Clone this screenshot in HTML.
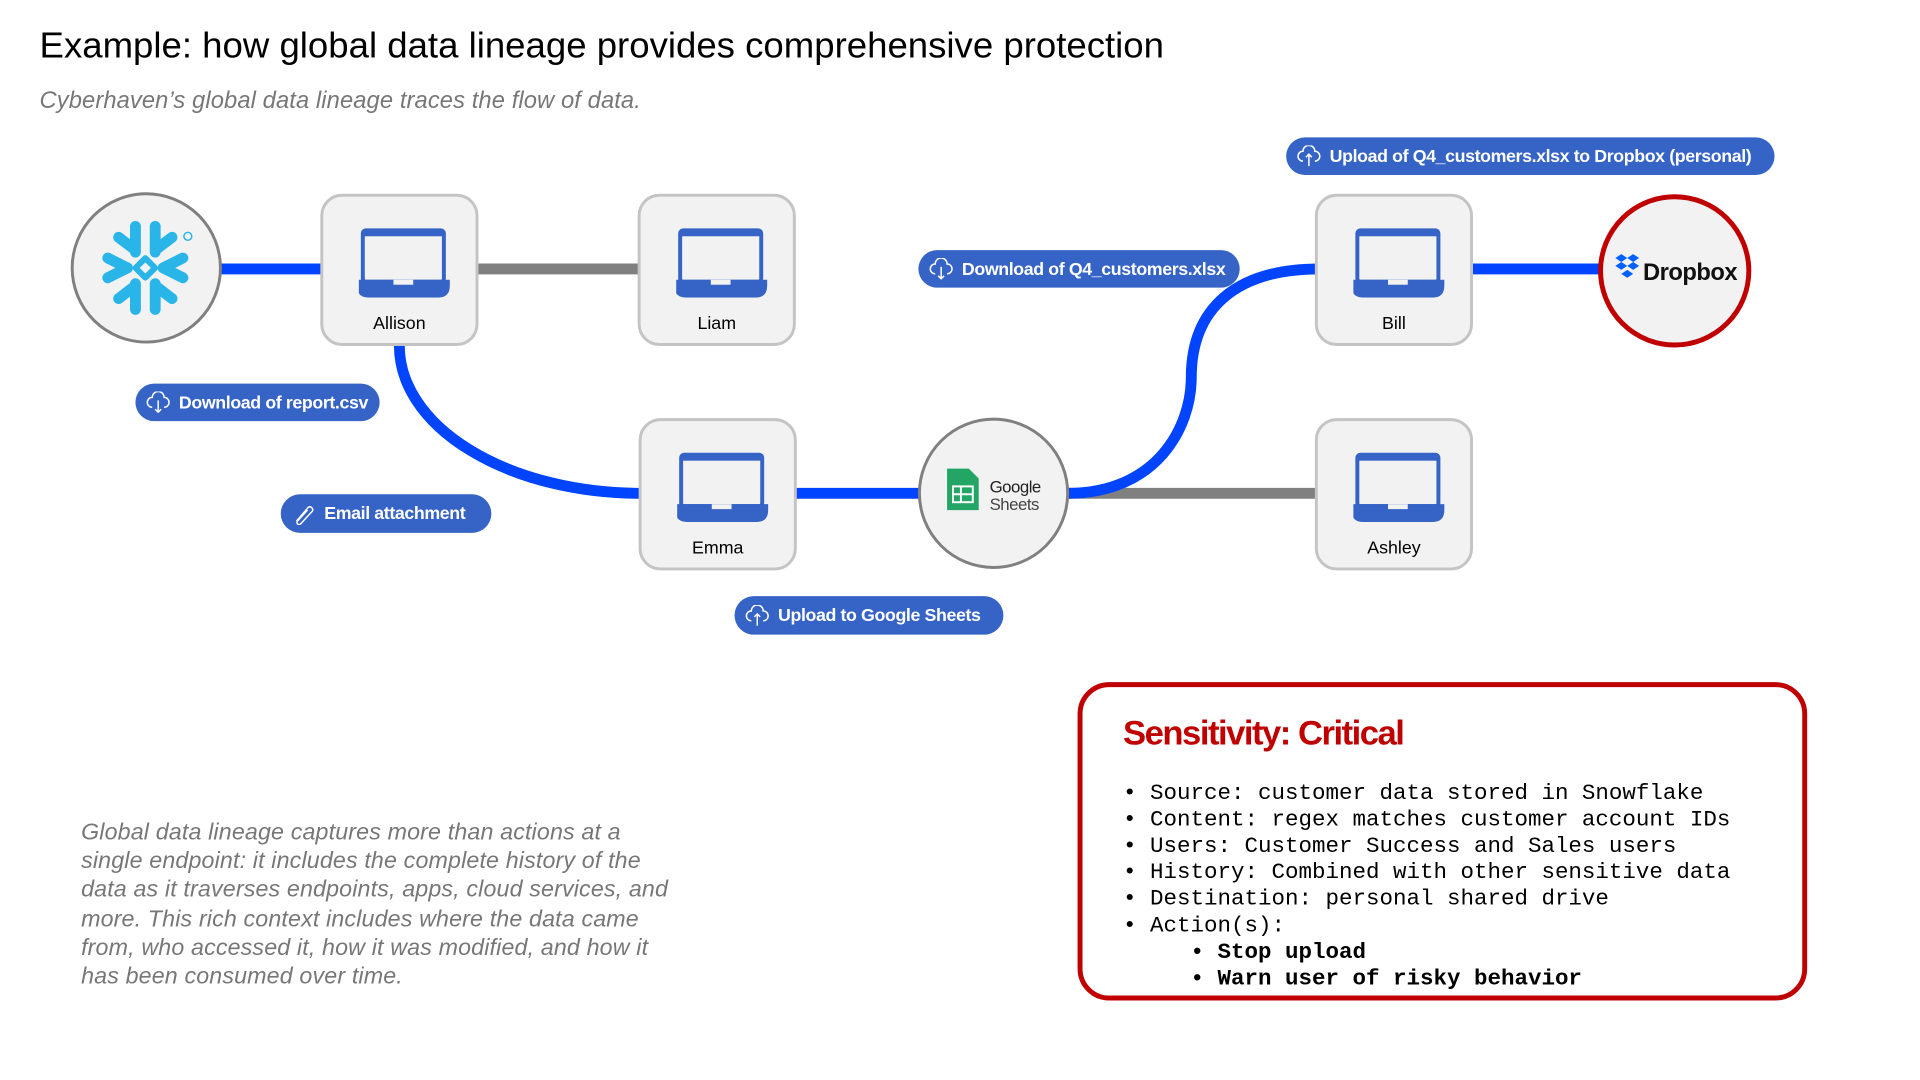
<!DOCTYPE html>
<html><head><meta charset="utf-8"><style>
body{margin:0;width:1920px;height:1080px;background:#fff;position:relative;overflow:hidden;font-family:"Liberation Sans",sans-serif}
#w{position:absolute;left:0;top:0;width:1920px;height:1080px;transform:scale(0.9886);transform-origin:0 0}
.t{position:absolute;white-space:nowrap}
.pill{position:absolute;background:#3563c6;color:#fff;font-weight:bold;font-size:18px;border-radius:20px;display:flex;align-items:center;letter-spacing:-0.4px}
.pill svg{margin:0 8px 0 10px}
.box{position:absolute;width:160px;height:154px;background:#f2f2f2;border:3px solid #c4c4c4;border-radius:22px;box-sizing:border-box}
.box .lbl{position:absolute;left:0;right:0;top:118px;text-align:center;font-size:18px;color:#000}
.box svg{position:absolute;left:36px;top:30px}
</style></head><body><div id="w">
<div class="t" style="left:40px;top:25px;font-size:37px;color:#000;letter-spacing:0px">Example: how global data lineage provides comprehensive protection</div>
<div class="t" style="left:40px;top:88px;font-size:24px;color:#777;font-style:italic;letter-spacing:0.1px">Cyberhaven’s global data lineage traces the flow of data.</div>

<svg style="position:absolute;left:0;top:0" width="1920" height="1080">
<g fill="none" stroke-width="11">
<line x1="220" y1="272" x2="330" y2="272" stroke="#0044ff"/>
<line x1="480" y1="272" x2="650" y2="272" stroke="#808080"/>
<path d="M404,350 A244,149 0 0 0 648,499" stroke="#0044ff"/>
<line x1="805" y1="499" x2="935" y2="499" stroke="#0044ff"/>
<line x1="1075" y1="499" x2="1335" y2="499" stroke="#808080"/>
<path d="M1080,499 C1170,499 1205,432 1205,382 C1205,312 1250,272 1335,272" stroke="#0044ff"/>
<line x1="1490" y1="272" x2="1620" y2="272" stroke="#0044ff"/>
</g>
<circle cx="148" cy="271" r="75" fill="#f2f2f2" stroke="#808080" stroke-width="3"/>
<g stroke="#29b5e8" stroke-width="11" stroke-linecap="round" stroke-linejoin="round" fill="none" transform="translate(147,271)">
<path d="M-10,-42 L-10,-16 M10,-42 L10,-16 M-27,-31 L-10,-18 M27,-31 L10,-18"/>
<path d="M-10,42 L-10,16 M10,42 L10,16 M-27,31 L-10,18 M27,31 L10,18"/>
<path d="M-38,-10 L-18,0 L-38,10 M38,-10 L18,0 L38,10"/>
<rect x="-7" y="-7" width="14" height="14" transform="rotate(45)" stroke-width="6"/>
</g>
<circle cx="190" cy="239" r="4" fill="none" stroke="#29b5e8" stroke-width="1.5"/>
<circle cx="1005" cy="499" r="75" fill="#f2f2f2" stroke="#808080" stroke-width="3"/>
<path d="M958,474 h22 l10,10 v32 h-32 z" fill="#23a566"/>
<rect x="964" y="492" width="20" height="16" fill="none" stroke="#fff" stroke-width="2"/>
<line x1="964" y1="500" x2="984" y2="500" stroke="#fff" stroke-width="2"/><line x1="972" y1="492" x2="972" y2="508" stroke="#fff" stroke-width="2"/>
<text x="1001" y="498" font-size="17" font-family="Liberation Sans" fill="#222" letter-spacing="-0.5">Google</text>
<text x="1001" y="516" font-size="17" font-family="Liberation Sans" fill="#444" letter-spacing="-0.5">Sheets</text>
<circle cx="1694" cy="274" r="75" fill="#f2f2f2" stroke="#c00000" stroke-width="5"/>
<g fill="#0061fe" transform="translate(1646,273)"><path d="M-12,-12 l6,-4 6,4 -6,4z M0,-12 l6,-4 6,4 -6,4z M-12,-4 l6,-4 6,4 -6,4z M0,-4 l6,-4 6,4 -6,4z M-6,4 l6,-4 6,4 -6,4z"/></g>
<text x="1662" y="283" font-size="24" font-weight="bold" font-family="Liberation Sans" fill="#111" letter-spacing="-0.5">Dropbox</text>
</svg>

<div class="box" style="left:324px;top:196px"><svg width="100" height="72"><rect x="4" y="4" width="82" height="52" rx="3" fill="#f2f2f2" stroke="#3563c6" stroke-width="4"/><rect x="4" y="4" width="82" height="6" fill="#3563c6"/><path d="M-2,54 h94 v6 q0,12 -12,12 h-70 q-12,0 -12,-12z" fill="#3563c6"/><rect x="35" y="54" width="20" height="5" fill="#f2f2f2"/></svg><div class="lbl">Allison</div></div>
<div class="box" style="left:645px;top:196px"><svg width="100" height="72"><rect x="4" y="4" width="82" height="52" rx="3" fill="#f2f2f2" stroke="#3563c6" stroke-width="4"/><rect x="4" y="4" width="82" height="6" fill="#3563c6"/><path d="M-2,54 h94 v6 q0,12 -12,12 h-70 q-12,0 -12,-12z" fill="#3563c6"/><rect x="35" y="54" width="20" height="5" fill="#f2f2f2"/></svg><div class="lbl">Liam</div></div>
<div class="box" style="left:646px;top:423px"><svg width="100" height="72"><rect x="4" y="4" width="82" height="52" rx="3" fill="#f2f2f2" stroke="#3563c6" stroke-width="4"/><rect x="4" y="4" width="82" height="6" fill="#3563c6"/><path d="M-2,54 h94 v6 q0,12 -12,12 h-70 q-12,0 -12,-12z" fill="#3563c6"/><rect x="35" y="54" width="20" height="5" fill="#f2f2f2"/></svg><div class="lbl">Emma</div></div>
<div class="box" style="left:1330px;top:196px"><svg width="100" height="72"><rect x="4" y="4" width="82" height="52" rx="3" fill="#f2f2f2" stroke="#3563c6" stroke-width="4"/><rect x="4" y="4" width="82" height="6" fill="#3563c6"/><path d="M-2,54 h94 v6 q0,12 -12,12 h-70 q-12,0 -12,-12z" fill="#3563c6"/><rect x="35" y="54" width="20" height="5" fill="#f2f2f2"/></svg><div class="lbl">Bill</div></div>
<div class="box" style="left:1330px;top:423px"><svg width="100" height="72"><rect x="4" y="4" width="82" height="52" rx="3" fill="#f2f2f2" stroke="#3563c6" stroke-width="4"/><rect x="4" y="4" width="82" height="6" fill="#3563c6"/><path d="M-2,54 h94 v6 q0,12 -12,12 h-70 q-12,0 -12,-12z" fill="#3563c6"/><rect x="35" y="54" width="20" height="5" fill="#f2f2f2"/></svg><div class="lbl">Ashley</div></div>

<div class="pill" style="left:137px;top:388px;width:247px;height:38px"><svg width="26" height="22" viewBox="0 0 26 22" fill="none" stroke="#fff" stroke-width="1.5"><path d="M7,16 a5,5 0 0 1 0,-10 a6,6 0 0 1 12,0 a5,5 0 0 1 0,10"/><path d="M13,9 v12 M10,18 l3,3 3,-3"/></svg>Download of report.csv</div>
<div class="pill" style="left:284px;top:500px;width:213px;height:39px"><svg width="26" height="22" viewBox="0 0 26 22" fill="none" stroke="#fff" stroke-width="1.5"><path d="M6,18 L18,4 a3,3 0 0 1 4,4 L10,21 a2,2 0 0 1 -3,-3 L17,7"/></svg>Email attachment</div>
<div class="pill" style="left:743px;top:603px;width:272px;height:39px"><svg width="26" height="22" viewBox="0 0 26 22" fill="none" stroke="#fff" stroke-width="1.5"><path d="M7,16 a5,5 0 0 1 0,-10 a6,6 0 0 1 12,0 a5,5 0 0 1 0,10"/><path d="M13,21 v-12 M10,12 l3,-3 3,3"/></svg>Upload to Google Sheets</div>
<div class="pill" style="left:929px;top:253px;width:325px;height:38px"><svg width="26" height="22" viewBox="0 0 26 22" fill="none" stroke="#fff" stroke-width="1.5"><path d="M7,16 a5,5 0 0 1 0,-10 a6,6 0 0 1 12,0 a5,5 0 0 1 0,10"/><path d="M13,9 v12 M10,18 l3,3 3,-3"/></svg>Download of Q4_customers.xlsx</div>
<div class="pill" style="left:1301px;top:139px;width:494px;height:38px"><svg width="26" height="22" viewBox="0 0 26 22" fill="none" stroke="#fff" stroke-width="1.5"><path d="M7,16 a5,5 0 0 1 0,-10 a6,6 0 0 1 12,0 a5,5 0 0 1 0,10"/><path d="M13,21 v-12 M10,12 l3,-3 3,3"/></svg>Upload of Q4_customers.xlsx to Dropbox (personal)</div>

<div class="t" style="left:82px;top:827px;font-size:23.5px;line-height:29.2px;color:#777;font-style:italic;letter-spacing:0.15px">Global data lineage captures more than actions at a<br>single endpoint: it includes the complete history of the<br>data as it traverses endpoints, apps, cloud services, and<br>more. This rich context includes where the data came<br>from, who accessed it, how it was modified, and how it<br>has been consumed over time.</div>

<div style="position:absolute;left:1090px;top:690px;width:738px;height:322px;border:5px solid #c00000;border-radius:32px;box-sizing:border-box"></div>
<div class="t" style="left:1136px;top:722px;font-size:35px;font-weight:bold;color:#c00000;letter-spacing:-1.5px">Sensitivity: Critical</div>
<div class="t" style="left:1136px;top:789px;font-family:'Liberation Mono',monospace;font-size:22.75px;line-height:26.8px;color:#000">•&nbsp;Source: customer data stored in Snowflake<br>•&nbsp;Content: regex matches customer account IDs<br>•&nbsp;Users: Customer Success and Sales users<br>•&nbsp;History: Combined with other sensitive data<br>•&nbsp;Destination: personal shared drive<br>•&nbsp;Action(s):<br><b>&nbsp;&nbsp;&nbsp;&nbsp;&nbsp;•&nbsp;Stop upload<br>&nbsp;&nbsp;&nbsp;&nbsp;&nbsp;•&nbsp;Warn user of risky behavior</b></div>
</div></body></html>
